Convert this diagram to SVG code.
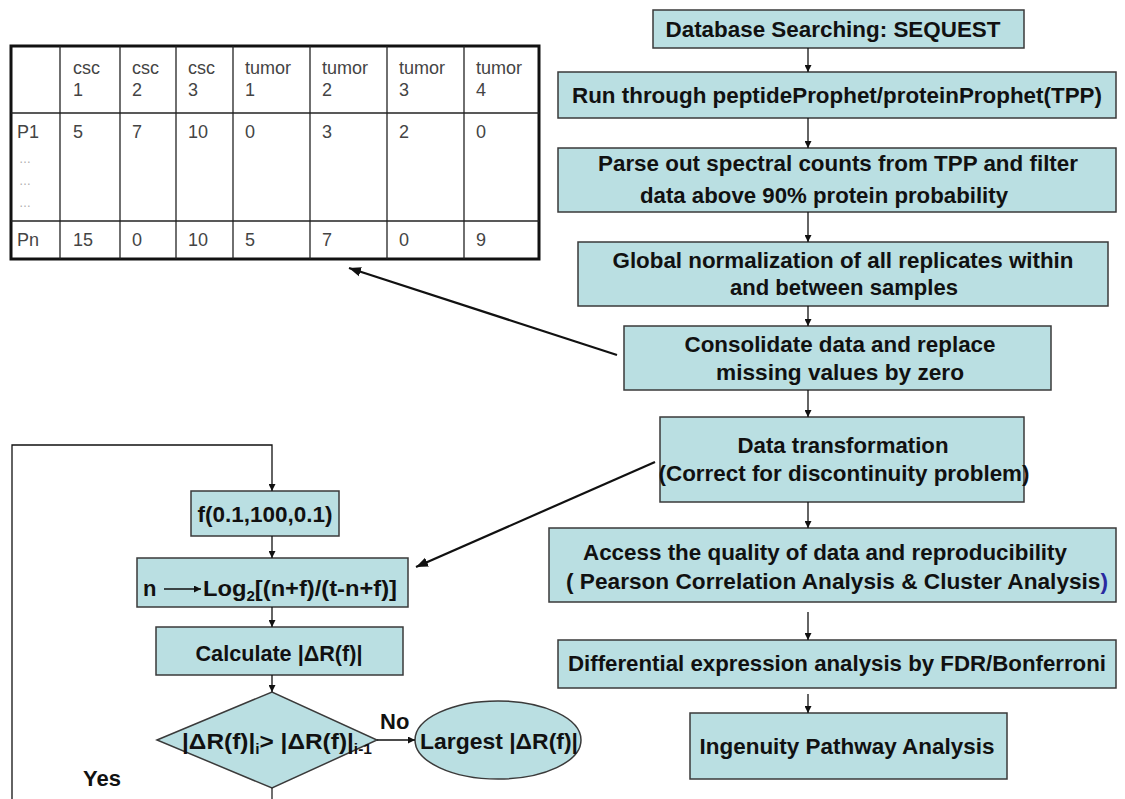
<svg xmlns="http://www.w3.org/2000/svg" width="1125" height="799" viewBox="0 0 1125 799">
<style>
.box{fill:#BADFE2;stroke:#3a3a3a;stroke-width:1.5}
.t{font-family:"Liberation Sans",Arial,sans-serif;font-weight:bold;font-size:22px;fill:#111;text-anchor:middle}
.tl{font-family:"Liberation Sans",Arial,sans-serif;font-weight:bold;font-size:22px;fill:#111}
.c{font-family:"Liberation Sans",Arial,sans-serif;font-size:18px;fill:#444}
.d{font-family:"Liberation Sans",Arial,sans-serif;font-size:12px;fill:#aaa}
.ln{stroke:#222;stroke-width:1.3;fill:none}
.cn{stroke:#111;stroke-width:1.3;fill:none;marker-end:url(#ah)}
.cnb{stroke:#111;stroke-width:2.2;fill:none;marker-end:url(#ahb)}
</style>
<defs>
<marker id="ah" viewBox="0 0 10 10" refX="10" refY="5" markerWidth="7" markerHeight="7" markerUnits="userSpaceOnUse" orient="auto"><path d="M0,0 L10,5 L0,10 z" fill="#111"/></marker>
<marker id="ahb" viewBox="0 0 10 10" refX="10" refY="5" markerWidth="12" markerHeight="12" markerUnits="userSpaceOnUse" orient="auto"><path d="M0,1 L10,5 L0,9 z" fill="#111"/></marker>
</defs>
<rect width="1125" height="799" fill="#fff"/>

<g id="table">
<rect x="11" y="46" width="528" height="213" fill="#fff" stroke="#111" stroke-width="3"/>
<g class="ln" stroke="#333">
<line x1="60" y1="46" x2="60" y2="259"/>
<line x1="120" y1="46" x2="120" y2="259"/>
<line x1="176" y1="46" x2="176" y2="259"/>
<line x1="233" y1="46" x2="233" y2="259"/>
<line x1="310" y1="46" x2="310" y2="259"/>
<line x1="387" y1="46" x2="387" y2="259"/>
<line x1="464" y1="46" x2="464" y2="259"/>
<line x1="11" y1="113" x2="539" y2="113"/>
<line x1="11" y1="221" x2="539" y2="221"/>
</g>
<text class="c" x="73" y="74">csc</text><text class="c" x="73" y="96">1</text>
<text class="c" x="132" y="74">csc</text><text class="c" x="132" y="96">2</text>
<text class="c" x="188" y="74">csc</text><text class="c" x="188" y="96">3</text>
<text class="c" x="245" y="74">tumor</text><text class="c" x="245" y="96">1</text>
<text class="c" x="322" y="74">tumor</text><text class="c" x="322" y="96">2</text>
<text class="c" x="399" y="74">tumor</text><text class="c" x="399" y="96">3</text>
<text class="c" x="476" y="74">tumor</text><text class="c" x="476" y="96">4</text>
<text class="c" x="17" y="138">P1</text>
<text class="c" x="73" y="138">5</text>
<text class="c" x="132" y="138">7</text>
<text class="c" x="188" y="138">10</text>
<text class="c" x="245" y="138">0</text>
<text class="c" x="322" y="138">3</text>
<text class="c" x="399" y="138">2</text>
<text class="c" x="476" y="138">0</text>
<text class="d" x="19" y="163">…</text>
<text class="d" x="19" y="185">…</text>
<text class="d" x="19" y="207">…</text>
<text class="c" x="17" y="246">Pn</text>
<text class="c" x="73" y="246">15</text>
<text class="c" x="132" y="246">0</text>
<text class="c" x="188" y="246">10</text>
<text class="c" x="245" y="246">5</text>
<text class="c" x="322" y="246">7</text>
<text class="c" x="399" y="246">0</text>
<text class="c" x="476" y="246">9</text>
</g>

<g id="n1"><rect class="box" x="653" y="10" width="371" height="38"/>
<text class="t" x="833" y="37" textLength="335" lengthAdjust="spacingAndGlyphs">Database Searching: SEQUEST</text></g>
<g id="n2"><rect class="box" x="558" y="72" width="558" height="46"/>
<text class="t" x="837" y="103" textLength="530" lengthAdjust="spacingAndGlyphs">Run through peptideProphet/proteinProphet(TPP)</text></g>
<g id="n3"><rect class="box" x="558" y="148" width="558" height="64"/>
<text class="t" x="838" y="171" textLength="480" lengthAdjust="spacingAndGlyphs">Parse out spectral counts from TPP and filter</text>
<text class="t" x="824" y="203" textLength="368" lengthAdjust="spacingAndGlyphs">data above 90% protein probability</text></g>
<g id="n4"><rect class="box" x="578" y="242" width="530" height="64"/>
<text class="t" x="843" y="268" textLength="461" lengthAdjust="spacingAndGlyphs">Global normalization of all replicates within</text>
<text class="t" x="844" y="295" textLength="228" lengthAdjust="spacingAndGlyphs">and between samples</text></g>
<g id="n5"><rect class="box" x="624" y="326" width="427" height="64"/>
<text class="t" x="840" y="352" textLength="311" lengthAdjust="spacingAndGlyphs">Consolidate data and replace</text>
<text class="t" x="840" y="380" textLength="248" lengthAdjust="spacingAndGlyphs">missing values by zero</text></g>
<g id="n6"><rect class="box" x="660" y="417" width="364" height="85"/>
<text class="t" x="843" y="453" textLength="211" lengthAdjust="spacingAndGlyphs">Data transformation</text>
<text class="t" x="844" y="481" textLength="371" lengthAdjust="spacingAndGlyphs">(Correct for discontinuity problem)</text></g>
<g id="n7"><rect class="box" x="549" y="528" width="567" height="74"/>
<text class="t" x="825" y="560" textLength="484" lengthAdjust="spacingAndGlyphs">Access the quality of data and reproducibility</text>
<text class="t" x="837" y="589" textLength="542" lengthAdjust="spacingAndGlyphs">( Pearson Correlation Analysis &amp; Cluster Analysis<tspan fill="#2a2aa0">)</tspan></text></g>
<g id="n8"><rect class="box" x="558" y="640" width="558" height="48"/>
<text class="t" x="837" y="671" textLength="538" lengthAdjust="spacingAndGlyphs">Differential expression analysis by FDR/Bonferroni</text></g>
<g id="n9"><rect class="box" x="690" y="713" width="317" height="66"/>
<text class="t" x="847" y="754" textLength="295" lengthAdjust="spacingAndGlyphs">Ingenuity Pathway Analysis</text></g>

<g id="f1"><rect class="box" x="191" y="491" width="148" height="45"/>
<text class="t" x="265" y="522" textLength="135" lengthAdjust="spacingAndGlyphs">f(0.1,100,0.1)</text></g>
<g id="f2"><rect class="box" x="137" y="558" width="271" height="49"/>
<text class="tl" x="143" y="596">n</text>
<line x1="164" y1="589" x2="201" y2="589" class="cn"/>
<text class="tl" x="203" y="596" textLength="194" lengthAdjust="spacingAndGlyphs">Log<tspan font-size="14" dy="5">2</tspan><tspan dy="-5">[(n+f)/(t-n+f)]</tspan></text></g>
<g id="f3"><rect class="box" x="156" y="627" width="247" height="48"/>
<text class="t" x="279" y="661" textLength="167" lengthAdjust="spacingAndGlyphs">Calculate |ΔR(f)|</text></g>
<g id="f4"><polygon class="box" points="157,740 272,692 377,740 272,788"/>
<text class="tl" x="182" y="749" textLength="190" lengthAdjust="spacingAndGlyphs">|ΔR(f)|<tspan font-size="14" dy="5">i</tspan><tspan dy="-5">&gt; |ΔR(f)|</tspan><tspan font-size="14" dy="5">i-1</tspan></text></g>
<g id="f5"><ellipse class="box" cx="498" cy="740" rx="83" ry="39"/>
<text class="t" x="499" y="749" textLength="158" lengthAdjust="spacingAndGlyphs">Largest |ΔR(f)|</text></g>
<text class="tl" x="380" y="729">No</text>
<text class="tl" x="83" y="786">Yes</text>

<g id="connectors">
<line class="cn" x1="808" y1="48" x2="808" y2="72"/>
<line class="cn" x1="808" y1="118" x2="808" y2="148"/>
<line class="cn" x1="808" y1="212" x2="808" y2="242"/>
<line class="cn" x1="808" y1="306" x2="808" y2="326"/>
<line class="cn" x1="808" y1="390" x2="808" y2="417"/>
<line class="cn" x1="808" y1="502" x2="808" y2="528"/>
<line class="cn" x1="808" y1="612" x2="808" y2="640"/>
<line class="cn" x1="808" y1="694" x2="808" y2="713"/>
<line class="cnb" x1="617" y1="355" x2="349" y2="268"/>
<line class="cnb" x1="655" y1="462" x2="416" y2="567"/>
<path class="cn" d="M12,799 L12,445 L272,445 L272,491"/>
<line class="cn" x1="272" y1="536" x2="272" y2="558"/>
<line class="cn" x1="272" y1="607" x2="272" y2="627"/>
<line class="cn" x1="272" y1="675" x2="272" y2="692"/>
<line class="ln" x1="272" y1="788" x2="272" y2="799"/>
<line class="cn" x1="377" y1="740" x2="415" y2="740"/>
</g>
</svg>
